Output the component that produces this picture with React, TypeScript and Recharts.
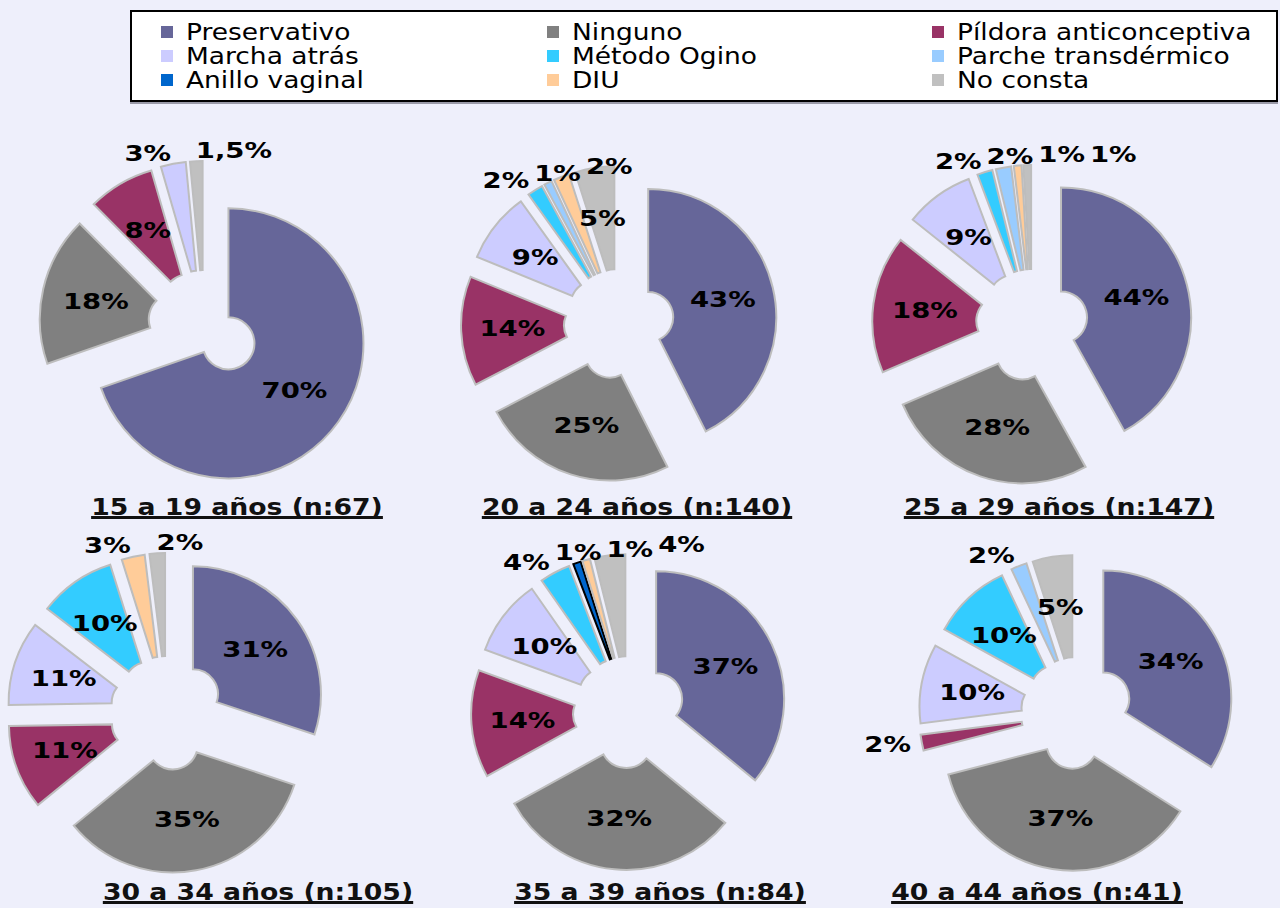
import { Cell, Legend, Pie, PieChart, Sector } from "recharts";

const categories = [
  "Preservativo",
  "Ninguno",
  "Píldora anticonceptiva",
  "Marcha atrás",
  "Método Ogino",
  "Parche transdérmico",
  "Anillo vaginal",
  "DIU",
  "No consta",
];
const colors = ["#666699", "#808080", "#993366", "#CCCCFF", "#33CCFF", "#99CCFF", "#0066CC", "#FFCC99", "#C0C0C0"];

const ageGroups = [
  "15 a 19 años (n:67)",
  "20 a 24 años (n:140)",
  "25 a 29 años (n:147)",
  "30 a 34 años (n:105)",
  "35 a 39 años (n:84)",
  "40 a 44 años (n:41)",
];

// % per method, in the same order as categories (0 = not in that group)
const values15to19 = [70, 18, 8, 3, 0, 0, 0, 0, 1.5];
const values20to24 = [43, 25, 14, 9, 2, 1, 0, 2, 5];
const values25to29 = [44, 28, 18, 9, 2, 2, 0, 1, 1];
const values30to34 = [31, 35, 11, 11, 10, 0, 0, 3, 2];
const values35to39 = [37, 32, 14, 10, 4, 0, 1, 1, 4];
const values40to44 = [34, 37, 2, 10, 10, 2, 0, 0, 5];

const groupValues = [values15to19, values20to24, values25to29, values30to34, values35to39, values40to44];

// where each doughnut sits on the page
const pieLayout = [
  { cx: 204, cy: 326, outer: 135, inner: 26, explode: 30, titleX: 237, titleY: 515 },
  { cx: 619, cy: 324, outer: 128, inner: 25, explode: 30, titleX: 637, titleY: 515 },
  { cx: 1032, cy: 325, outer: 130, inner: 26, explode: 30, titleX: 1059, titleY: 515 },
  { cx: 167, cy: 713, outer: 128, inner: 25, explode: 32, titleX: 258, titleY: 900 },
  { cx: 629, cy: 712, outer: 128, inner: 26, explode: 30, titleX: 660, titleY: 900 },
  { cx: 1077, cy: 713, outer: 128, inner: 26, explode: 30, titleX: 1037, titleY: 900 },
];

const RAD = Math.PI / 180;
const FONT = "'DejaVu Sans', Verdana, sans-serif";
const LABEL_SIZE = 22;
const LABEL_SCALE = 1.25;

// DejaVu Sans Bold advance widths (em)
const boldWidths: Record<string, number> = {
  "0": 0.696, "1": 0.696, "2": 0.696, "3": 0.696, "4": 0.696, "5": 0.696, "6": 0.696, "7": 0.696, "8": 0.696, "9": 0.696,
  "%": 1.002, ",": 0.38, " ": 0.348, a: 0.675, "ñ": 0.712, o: 0.687, s: 0.595, "(": 0.457, ")": 0.457, n: 0.712, ":": 0.399,
};
const textWidth = (t: string, size: number, scale: number) =>
  t.split("").reduce((s, ch) => s + (boldWidths[ch] ?? 0.7), 0) * size * scale;

const explodedShape = (explode: number) => (props: any) => {
  const { cx, cy, midAngle } = props;
  const dx = explode * Math.cos(-midAngle * RAD);
  const dy = explode * Math.sin(-midAngle * RAD);
  return <Sector {...props} cx={cx + dx} cy={cy + dy} />;
};

const placedLabels: Record<number, { x0: number; x1: number; y: number }[]> = {};

const sliceLabel = (chart: number, explode: number) => (props: any) => {
  const { cx, cy, midAngle, outerRadius, value, index } = props;
  if (index === 0) placedLabels[chart] = [];
  const ux = Math.cos(-midAngle * RAD);
  const uy = Math.sin(-midAngle * RAD);
  const ax = cx + explode * ux;
  const ay = cy + explode * uy;
  const text = `${String(value).replace(".", ",")}%`;
  const w = textWidth(text, LABEL_SIZE, LABEL_SCALE);
  let left: number;
  let y: number;
  if (value >= 5) {
    const r = outerRadius * 0.6;
    left = ax + r * ux - w / 2;
    y = ay + r * uy;
  } else {
    // small slices: label just outside, pushed right if it hits the previous one
    const r = outerRadius + 11;
    const x = ax + r * ux;
    y = ay + r * uy;
    left = ux < -0.1 ? x - w : x;
    for (const b of placedLabels[chart]) {
      if (Math.abs(b.y - y) < 22 && left < b.x1 + 5 && left + w > b.x0) left = b.x1 + 5;
    }
    placedLabels[chart].push({ x0: left, x1: left + w, y });
  }
  return (
    <text
      transform={`translate(${left}, ${y}) scale(${LABEL_SCALE}, 1)`}
      x={0}
      y={0}
      textAnchor="start"
      dominantBaseline="central"
      fontFamily={FONT}
      fontWeight="bold"
      fontSize={LABEL_SIZE}
      fill="#000"
      stroke="none"
    >
      {text}
    </text>
  );
};

const LegendBox = () => (
  <div
    style={{
      boxSizing: "border-box",
      position: "relative",
      width: 1148,
      height: 92,
      background: "#fff",
      border: "2px solid #000",
      boxShadow: "0 2px 0 #9a9aa8",
      fontFamily: FONT,
    }}
  >
    {categories.map((c, i) => (
      <div
        key={c}
        style={{
          position: "absolute",
          left: [29, 415, 800][i % 3],
          top: 8 + Math.floor(i / 3) * 24,
          height: 24,
          display: "flex",
          alignItems: "center",
        }}
      >
        <span style={{ display: "inline-block", width: 12, height: 12, background: colors[i], marginRight: 13 }} />
        <span
          style={{
            display: "inline-block",
            fontSize: 23,
            lineHeight: "24px",
            color: "#000",
            whiteSpace: "nowrap",
            transform: "scaleX(1.15)",
            transformOrigin: "left center",
          }}
        >
          {c}
        </span>
      </div>
    ))}
  </div>
);

export default function App() {
  return (
    <div style={{ position: "absolute", left: 0, top: 0, width: 1280, height: 908, background: "#EEEFFB", overflow: "hidden" }}>
      <PieChart width={1280} height={908} margin={{ top: 0, right: 0, bottom: 0, left: 0 }}>
        <Legend
          content={() => <LegendBox />}
          wrapperStyle={{ left: 130, top: 10, bottom: "auto", width: 1148, height: 92 }}
        />
        {groupValues.map((vals, g) => {
          const layout = pieLayout[g];
          const data = categories
            .map((name, i) => ({ name, value: vals[i], color: colors[i], idx: i }))
            .filter((d) => d.value > 0);
          return (
            <Pie
              key={ageGroups[g]}
              data={data}
              dataKey="value"
              nameKey="name"
              cx={layout.cx}
              cy={layout.cy}
              innerRadius={layout.inner}
              outerRadius={layout.outer}
              startAngle={90}
              endAngle={-270}
              stroke="#BDBDBD"
              strokeWidth={2}
              shape={explodedShape(layout.explode)}
              label={sliceLabel(g, layout.explode)}
              labelLine={false}
              isAnimationActive={false}
            >
              {data.map((d) => (
                <Cell key={d.name} fill={d.color} stroke={d.idx === 6 ? "#000" : "#BDBDBD"} />
              ))}
            </Pie>
          );
        })}
      </PieChart>
      <svg width={1280} height={908} style={{ position: "absolute", left: 0, top: 0, pointerEvents: "none" }}>
        {ageGroups.map((t, g) => {
          const { titleX, titleY } = pieLayout[g];
          const w = textWidth(t, 23, 1.16);
          return (
            <g key={t}>
              <text
                transform={`translate(${titleX}, ${titleY}) scale(1.16, 1)`}
                x={0}
                y={0}
                textAnchor="middle"
                fontFamily={FONT}
                fontWeight="bold"
                fontSize={23}
                fill="#111"
              >
                {t}
              </text>
              <rect x={titleX - w / 2} y={titleY + 1} width={w} height={3} fill="#111" />
            </g>
          );
        })}
      </svg>
    </div>
  );
}
